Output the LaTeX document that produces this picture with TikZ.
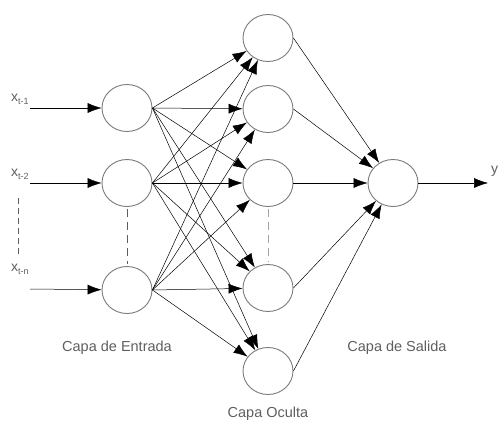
\documentclass[tikz,border=0pt]{standalone}
\usepackage{fontspec}
\setmainfont{Liberation Sans}
\usetikzlibrary{shapes.geometric,arrows.meta}
\definecolor{ringgray}{HTML}{7A7A7A}
\definecolor{textgray}{HTML}{5E5E5E}
\begin{document}
\begin{tikzpicture}[x=1pt,y=-1pt,
  neuron/.style={ellipse,draw=ringgray,line width=0.9pt,minimum width=50pt,minimum height=47pt,inner sep=0pt},
  link/.style={line width=0.5pt,-{Latex[length=14pt,width=10pt]}},
  lbl/.style={text=textgray,font=\fontsize{14.5}{16}\selectfont,inner sep=0pt},
  var/.style={text=textgray,font=\fontsize{14}{16}\selectfont,inner sep=0pt,anchor=base west},
  dots/.style={draw=textgray,line width=0.6pt,dash pattern=on 6pt off 4pt}]
\useasboundingbox (0,0) rectangle (499,423);
% input layer
\node[neuron] (i1) at (127,108) {};
\node[neuron] (i2) at (127,183) {};
\node[neuron] (i3) at (127,290) {};
% hidden layer
\node[neuron] (h1) at (268,38) {};
\node[neuron] (h2) at (268,109) {};
\node[neuron] (h3) at (268,183) {};
\node[neuron] (h4) at (268,288) {};
\node[neuron] (h5) at (268,371) {};
% output
\node[neuron] (o) at (393,183) {};
% input feeds
\coordinate (s1) at (30,108);
\coordinate (s2) at (30,183);
\coordinate (s3) at (30,289);
\draw[link] (s1) -- (i1);
\draw[link] (s2) -- (i2);
\draw[link] (s3) -- (i3);
\node[var] (x1) at (11,101) {x\raisebox{-3.5pt}{\fontsize{9}{10}\selectfont t-1}};
\node[var] (x2) at (11,176) {x\raisebox{-3.5pt}{\fontsize{9}{10}\selectfont t-2}};
\node[var] (x3) at (11,271) {x\raisebox{-3.5pt}{\fontsize{9}{10}\selectfont t-n}};
\coordinate (d1) at (18,198);
\coordinate (d2) at (18,254);
\draw[dots] (d1) -- (d2);
% dashed between neurons
\path (i2.south) ++(0,2) coordinate (e1) (i3.north) ++(0,-2) coordinate (e2);
\draw[dots,dash pattern=on 8pt off 5pt] (e1) -- (e2);
\path (h3.south) ++(0,2) coordinate (f1) (h4.north) ++(0,-2) coordinate (f2);
\draw[dots,draw=ringgray!70,dash pattern=on 8pt off 5pt] (f1) -- (f2);
% input -> hidden
\foreach \i in {i1,i2,i3}{
  \foreach \h in {h1,h2,h3,h4,h5}{
    \draw[link] (\i.east) -- (\h);
  }
}
% hidden -> output
\foreach \h in {h1,h2,h3,h4,h5}{
  \draw[link] (\h.east) -- (o);
}
% output
\coordinate (y0) at (488,183);
\draw[link] (o.east) -- (y0);
\node[var] (yl) at (491,173) {y};
% layer labels
\node[lbl] (le) at (117,348) {Capa de Entrada};
\node[lbl] (lo) at (268,414) {Capa Oculta};
\node[lbl] (ls) at (397,348) {Capa de Salida};
\end{tikzpicture}
\end{document}
